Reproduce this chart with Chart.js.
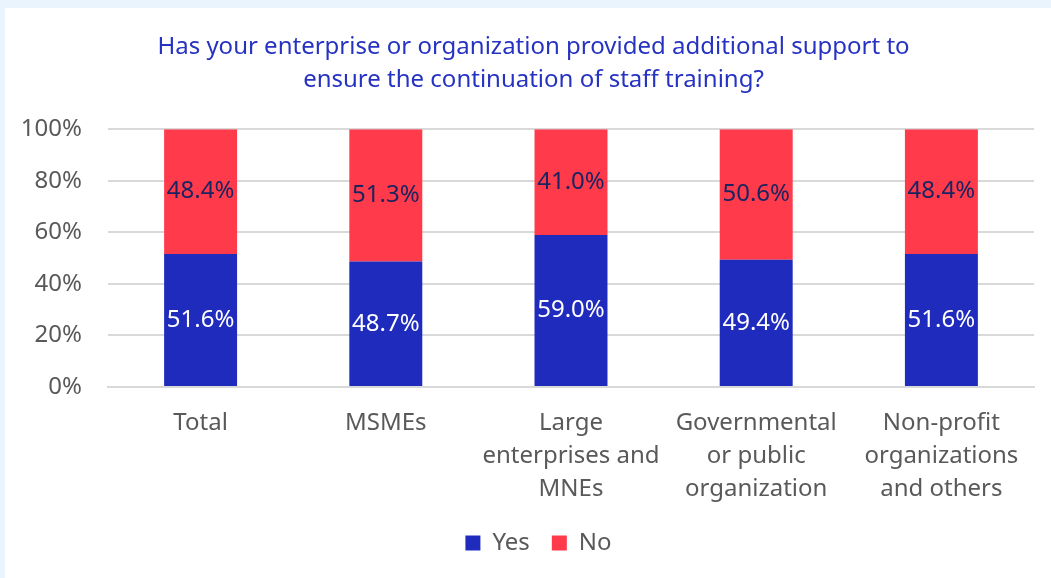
<!DOCTYPE html>
<html>
<head>
<meta charset="utf-8">
<script src="https://cdn.jsdelivr.net/npm/chart.js@4"></script>
<style>
  body { margin: 0; background: #eaf4fd; }
  #panel { position: absolute; left: 5px; top: 8px; width: 1046px; height: 570px; background: #fff; }
</style>
</head>
<body>
<div id="panel"><canvas id="chart" width="1046" height="570"></canvas></div>
<script>
const categories = [
    'Total',
    'MSMEs',
    ['Large', 'enterprises and', 'MNEs'],
    ['Governmental', 'or public', 'organization'],
    ['Non-profit', 'organizations', 'and others']
];
const yesValues = [51.6, 48.7, 59.0, 49.4, 51.6];
const noValues = [48.4, 51.3, 41.0, 50.6, 48.4];
const yTicks = [0, 20, 40, 60, 80, 100];

const FONT = "'Noto Sans', 'Open Sans', sans-serif";

// draws the percentages in the middle of each segment
const segmentLabels = {
    id: 'segmentLabels',
    afterDatasetsDraw(chart) {
        const ctx = chart.ctx;
        ctx.save();
        ctx.font = '24px ' + FONT;
        ctx.textAlign = 'center';
        ctx.textBaseline = 'middle';
        chart.data.datasets.forEach((ds, i) => {
            const meta = chart.getDatasetMeta(i);
            meta.data.forEach((bar, j) => {
                const mid = (bar.y + bar.base) / 2;
                ctx.fillStyle = ds.labelColor;
                ctx.fillText(ds.data[j].toFixed(1) + '%', bar.x, mid);
            });
        });
        ctx.restore();
    }
};

// nudge title and legend a bit to the right, like the original
const nudge = {
    id: 'nudge',
    afterLayout(chart) {
        chart.titleBlock.left += 5;
        chart.titleBlock.right += 5;
        chart.legend.left += 10;
        chart.legend.right += 10;
    }
};

new Chart(document.getElementById('chart').getContext('2d'), {
    type: 'bar',
    data: {
        labels: categories,
        datasets: [{
            label: 'Yes',
            data: yesValues,
            backgroundColor: '#1f2bbd',
            labelColor: '#ffffff',
            barPercentage: 0.394,
            categoryPercentage: 1
        }, {
            label: 'No',
            data: noValues,
            backgroundColor: '#ff3b4b',
            labelColor: '#1b2360',
            barPercentage: 0.394,
            categoryPercentage: 1
        }]
    },
    options: {
        responsive: false,
        animation: false,
        layout: { padding: { left: 18, right: 17, top: 20, bottom: 13 } },
        scales: {
            x: {
                stacked: true,
                grid: { display: false },
                border: { color: '#d9d9d9', width: 2 },
                afterFit: axis => { axis.height -= 9; },
                ticks: {
                    color: '#595959',
                    font: { family: FONT, size: 24, lineHeight: 1.375 },
                    padding: 12,
                    maxRotation: 0,
                    autoSkip: false
                }
            },
            y: {
                stacked: true,
                min: 0,
                max: 100,
                afterBuildTicks: axis => { axis.ticks = yTicks.map(v => ({ value: v })); },
                afterFit: axis => { axis.width = 85; },
                grid: { color: '#d9d9d9', lineWidth: 2, drawTicks: false },
                border: { display: false },
                ticks: {
                    color: '#595959',
                    font: { family: FONT, size: 24 },
                    padding: 26,
                    callback: v => v + '%'
                }
            }
        },
        plugins: {
            title: {
                display: true,
                text: ['Has your enterprise or organization provided additional support to',
                       'ensure the continuation of staff training?'],
                color: '#2632c2',
                font: { family: FONT, size: 24, weight: 'normal', lineHeight: 1.4 },
                padding: { top: 2, bottom: 32 }
            },
            legend: {
                position: 'bottom',
                labels: {
                    color: '#595959',
                    font: { family: FONT, size: 24 },
                    boxWidth: 15,
                    boxHeight: 15,
                    padding: 22
                }
            },
            tooltip: { enabled: false }
        }
    },
    plugins: [segmentLabels, nudge]
});
</script>
</body>
</html>
